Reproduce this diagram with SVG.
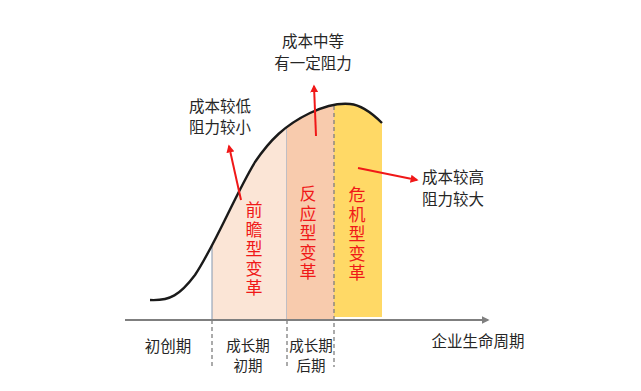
<svg xmlns="http://www.w3.org/2000/svg" width="641" height="391" viewBox="0 0 641 391">
<style>
.t{font-family:"Noto Sans CJK SC","Noto Sans",sans-serif;font-size:15.5px;fill:#262626;text-anchor:middle}
.s{font-size:14.5px}
.v{font-family:"Noto Sans CJK SC","Noto Sans",sans-serif;font-size:17px;fill:#F01818;text-anchor:middle;writing-mode:vertical-rl;letter-spacing:2.5px}
.red{stroke:#F01818;stroke-width:2;fill:none}
.dash{stroke:#7F7F7F;stroke-width:1.3;stroke-dasharray:4,3;fill:none}
</style>
<defs>
<clipPath id="under">
<path d="M150,300 C170,301 180,295 195,275 C215,245 235,195 255,162 C270,140 285,125 310,113 C325,106 340,103 350,104 C362,105 372,113 382,123 L382,320 L150,320 Z"/>
</clipPath>
<marker id="ra" viewBox="0 0 10 10" refX="8" refY="5" markerWidth="4" markerHeight="4" orient="auto"><path d="M0,0 L10,5 L0,10 Z" fill="#F01818"/></marker>
<marker id="ga" viewBox="0 0 10 10" refX="8" refY="5" markerWidth="4" markerHeight="4" orient="auto"><path d="M0,0 L10,5 L0,10 Z" fill="#7F7F7F"/></marker>
</defs>
<rect width="641" height="391" fill="#FFFFFF"/>
<g id="regions" clip-path="url(#under)">
<g id="r1"><rect x="212" y="0" width="75" height="320" fill="#FBE5D6" stroke="#8497B0" stroke-width="1"/></g>
<g id="r2"><rect x="287" y="0" width="47" height="320" fill="#F8CBAD"/></g>
<g id="r3"><rect x="334" y="0" width="48" height="317" fill="#FFD966"/></g>
</g>
<line x1="212" y1="320" x2="287" y2="320" stroke="#2F5597" stroke-width="1.5"/>
<g id="connectors">
<line x1="125" y1="320" x2="488" y2="320" stroke="#7F7F7F" stroke-width="2" marker-end="url(#ga)"/>
<line class="dash" x1="212" y1="320" x2="212" y2="367"/>
<line class="dash" x1="287" y1="320" x2="287" y2="367"/>
<line class="dash" x1="334" y1="106" x2="334" y2="367"/>
<path d="M150,300 C170,301 180,295 195,275 C215,245 235,195 255,162 C270,140 285,125 310,113 C325,106 340,103 350,104 C362,105 372,113 382,123" fill="none" stroke="#1A1A1A" stroke-width="2.4"/>
<line class="red" x1="241" y1="200" x2="229" y2="146" marker-end="url(#ra)"/>
<line class="red" x1="316" y1="136" x2="314" y2="86" marker-end="url(#ra)"/>
<line class="red" x1="358" y1="168" x2="417" y2="180" marker-end="url(#ra)"/>
</g>
<g id="n1"><text class="v" x="254" y="250">前瞻型变革</text></g>
<g id="n2"><text class="v" x="308" y="234">反应型变革</text></g>
<g id="n3"><text class="v" x="357" y="235">危机型变革</text></g>
<g id="lbl1"><text class="t" x="313" y="47">成本中等<tspan x="313" dy="22">有一定阻力</tspan></text></g>
<g id="lbl2"><text class="t" x="220" y="112">成本较低<tspan x="220" dy="21">阻力较小</tspan></text></g>
<g id="lbl3"><text class="t" x="453" y="183">成本较高<tspan x="453" dy="22">阻力较大</tspan></text></g>
<g id="axis-labels">
<text class="t" x="168" y="352">初创期</text>
<text class="t s" x="248" y="351">成长期<tspan x="248" dy="20">初期</tspan></text>
<text class="t s" x="311" y="351">成长期<tspan x="311" dy="20">后期</tspan></text>
<text class="t" x="478" y="347">企业生命周期</text>
</g>
</svg>
